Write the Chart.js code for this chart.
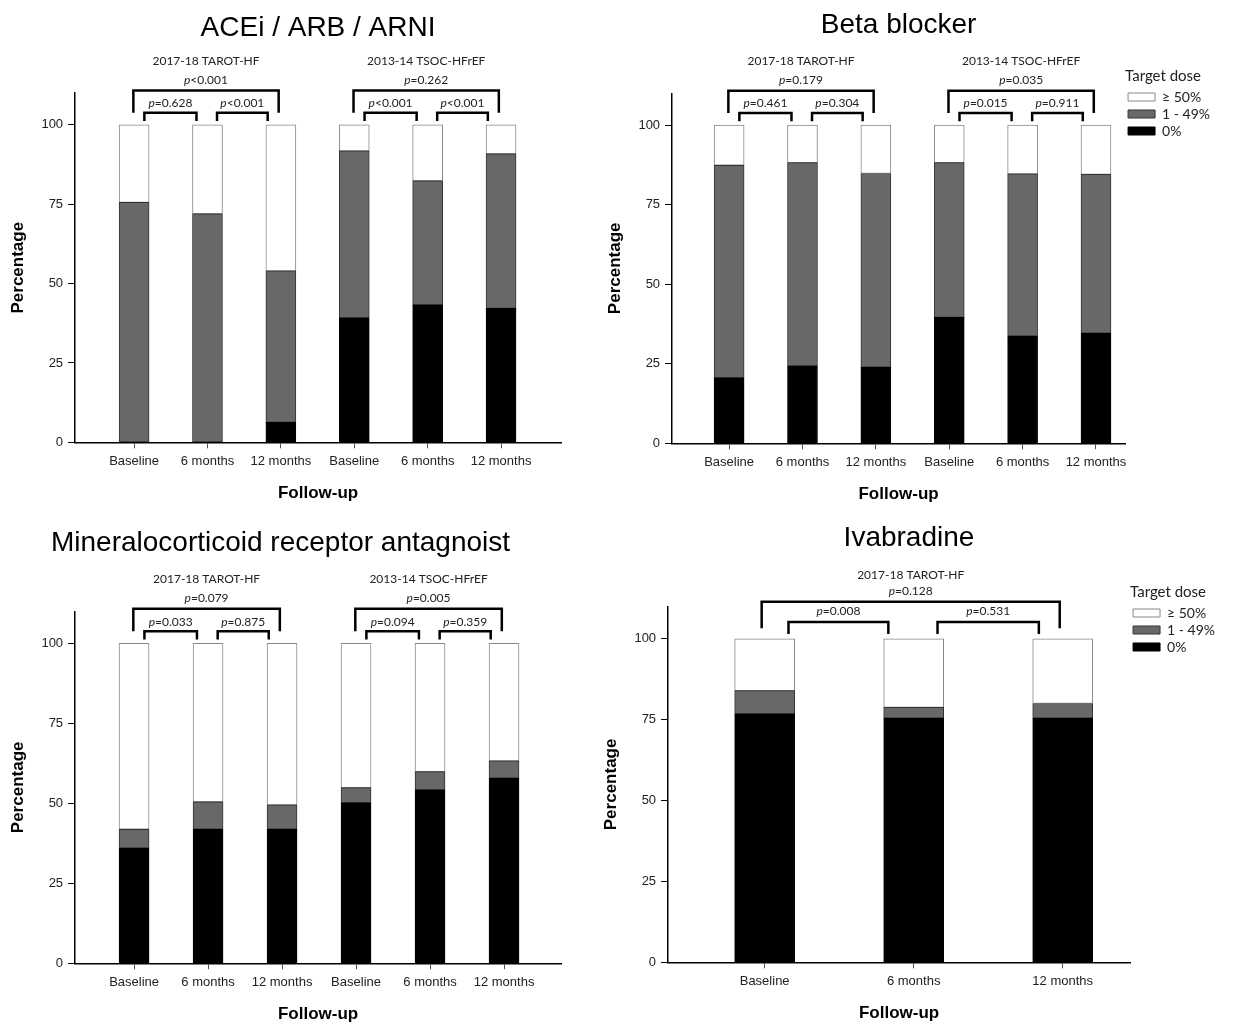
<!DOCTYPE html>
<html>
<head>
<meta charset="utf-8">
<title>Target dose over follow-up</title>
<script src="https://cdn.jsdelivr.net/npm/chart.js@4.4.0/dist/chart.umd.min.js"></script>
<style>
  html, body { margin: 0; padding: 0; background: #fff; overflow: hidden; }
  canvas { position: absolute; }
</style>
</head>
<body>
<canvas id="aceChart" width="600" height="515" style="left:0px;top:0px"></canvas>
<canvas id="betaChart" width="640" height="515" style="left:597px;top:0px"></canvas>
<canvas id="mraChart" width="600" height="520" style="left:0px;top:512px"></canvas>
<canvas id="ivaChart" width="644" height="520" style="left:593px;top:512px"></canvas>
<script>
// Catégories et libellés
const followUpLabels = ['Baseline', '6 months', '12 months', 'Baseline', '6 months', '12 months'];
const ivaLabels = ['Baseline', '6 months', '12 months'];
const doseLabels = ['0%', '1 - 49%', '\u2265 50%'];
const cohortNames = ['2017-18 TAROT-HF', '2013-14 TSOC-HFrEF'];
const yTicks = [0, 25, 50, 75, 100];

// ACEi / ARB / ARNI (%)
const aceZero = [0, 0, 6.3, 39.2, 43.3, 42.2];
const aceLow = [75.6, 72.0, 47.7, 52.6, 39.1, 48.7];
const aceTarget = [24.4, 28.0, 46.0, 8.2, 17.6, 9.1];
const aceOverallP = ['p<0.001', 'p=0.262'];
const acePairP = [['p=0.628', 'p<0.001'], ['p<0.001', 'p<0.001']];

// Beta blocker (%)
const betaZero = [20.6, 24.3, 23.9, 39.6, 33.7, 34.6];
const betaLow = [66.8, 63.9, 60.9, 48.6, 51.0, 49.9];
const betaTarget = [12.6, 11.8, 15.2, 11.8, 15.3, 15.5];
const betaOverallP = ['p=0.179', 'p=0.035'];
const betaPairP = [['p=0.461', 'p=0.304'], ['p=0.015', 'p=0.911']];

// Mineralocorticoid receptor antagonist (%)
const mraZero = [36.0, 41.9, 41.9, 50.2, 54.2, 57.9];
const mraLow = [5.9, 8.6, 7.6, 4.7, 5.7, 5.4];
const mraTarget = [58.1, 49.5, 50.5, 45.1, 40.1, 36.7];
const mraOverallP = ['p=0.079', 'p=0.005'];
const mraPairP = [['p=0.033', 'p=0.875'], ['p=0.094', 'p=0.359']];

// Ivabradine (%)
const ivaZero = [76.8, 75.5, 75.5];
const ivaLow = [7.2, 3.3, 4.5];
const ivaTarget = [16.0, 21.2, 20.0];
const ivaOverallP = ['p=0.128'];
const ivaPairP = [['p=0.008', 'p=0.531']];

Chart.defaults.font.family = '"Liberation Sans", Arial, sans-serif';
Chart.defaults.color = '#222';

const noteFont = '"Lato", "Open Sans", sans-serif';

// Géométrie des crochets (en unités des axes)
const sixBarBrackets = {
    outer: [-0.01, 1.97], inner: [[0.14, 0.85], [1.13, 1.82]],
    outerTop: 110.8, outerLeg: 103.8, innerTop: 103.8, innerLeg: 101.2,
    pairText: 106.8, overallText: 114.1, nameText: 120.1
};
const threeBarBrackets = {
    outer: [-0.02, 1.98], inner: [[0.16, 0.83], [1.16, 1.84]],
    outerTop: 111.5, outerLeg: 103.3, innerTop: 105.2, innerLeg: 101.5,
    pairText: 108.6, overallText: 114.8, nameText: 119.8
};

function drawBracket(ctx, x0, x1, top, leg) {
    ctx.beginPath();
    ctx.moveTo(x0, leg);
    ctx.lineTo(x0, top);
    ctx.lineTo(x1, top);
    ctx.lineTo(x1, leg);
    ctx.stroke();
}

// "p" en italique, le reste en romain
function drawPValue(ctx, text, cx, cy) {
    const head = text.charAt(0);
    const rest = text.slice(1);
    ctx.font = 'italic 12px ' + noteFont;
    const w1 = ctx.measureText(head).width;
    ctx.font = '12px ' + noteFont;
    const w2 = ctx.measureText(rest).width;
    const left = cx - (w1 + w2) / 2;
    ctx.textAlign = 'left';
    ctx.font = 'italic 12px ' + noteFont;
    ctx.fillText(head, left, cy);
    ctx.font = '12px ' + noteFont;
    ctx.fillText(rest, left + w1, cy);
}

const bracketPlugin = {
    id: 'brackets',
    afterDraw(chart, args, opts) {
        if (!opts.groups) return;
        const { ctx } = chart;
        const x = chart.scales.x;
        const y = chart.scales.y;
        const g = opts.geometry;
        ctx.save();
        ctx.strokeStyle = '#000';
        ctx.lineWidth = 2.5;
        ctx.fillStyle = '#222';
        ctx.textBaseline = 'middle';
        opts.groups.forEach(group => {
            const s = group.start;
            const ox0 = x.getPixelForValue(s + g.outer[0]);
            const ox1 = x.getPixelForValue(s + g.outer[1]);
            drawBracket(ctx, ox0, ox1, y.getPixelForValue(g.outerTop), y.getPixelForValue(g.outerLeg));
            g.inner.forEach((span, i) => {
                const ix0 = x.getPixelForValue(s + span[0]);
                const ix1 = x.getPixelForValue(s + span[1]);
                drawBracket(ctx, ix0, ix1, y.getPixelForValue(g.innerTop), y.getPixelForValue(g.innerLeg));
                drawPValue(ctx, group.pairs[i], (ix0 + ix1) / 2, y.getPixelForValue(g.pairText));
            });
            const mid = (ox0 + ox1) / 2;
            drawPValue(ctx, group.overall, mid, y.getPixelForValue(g.overallText));
            ctx.font = '12px ' + noteFont;
            ctx.textAlign = 'center';
            ctx.fillText(group.name, mid, y.getPixelForValue(g.nameText));
        });
        ctx.restore();
    }
};

function toPoints(values) {
    return values.map((v, i) => ({ x: i, y: v }));
}

function makeChart(id, cfg) {
    const labels = cfg.labels;
    return new Chart(document.getElementById(id), {
        type: 'bar',
        data: {
            datasets: [
                { label: doseLabels[0], data: toPoints(cfg.zero), backgroundColor: '#000', borderColor: '#000' },
                { label: doseLabels[1], data: toPoints(cfg.low), backgroundColor: '#686868', borderColor: '#333' },
                { label: doseLabels[2], data: toPoints(cfg.target), backgroundColor: '#fff', borderColor: '#888' }
            ]
        },
        options: {
            responsive: false,
            animation: false,
            barThickness: cfg.barWidth,
            borderWidth: 1,
            borderSkipped: false,
            layout: { padding: cfg.padding },
            scales: {
                x: {
                    type: 'linear',
                    stacked: true,
                    offset: false,
                    min: cfg.xMin,
                    max: cfg.xMax,
                    afterBuildTicks: scale => { scale.ticks = labels.map((_, i) => ({ value: i })); },
                    ticks: {
                        autoSkip: false,
                        maxRotation: 0,
                        padding: 5,
                        font: { size: 13 },
                        color: '#222',
                        callback: value => labels[Math.round(value)]
                    },
                    grid: { drawOnChartArea: false, offset: false, tickLength: 6, color: '#555' },
                    border: { color: '#000', width: 1.5 },
                    title: {
                        display: true,
                        text: 'Follow-up',
                        color: '#000',
                        font: { size: 17, weight: 'bold' },
                        padding: { top: 9, bottom: 4 }
                    }
                },
                y: {
                    stacked: true,
                    min: 0,
                    max: 110,
                    afterBuildTicks: scale => { scale.ticks = yTicks.map(v => ({ value: v })); },
                    ticks: { padding: 5, font: { size: 13 }, color: '#222' },
                    grid: { drawOnChartArea: false, tickLength: 7, color: '#000' },
                    border: { color: '#000', width: 1.5 },
                    title: {
                        display: true,
                        text: 'Percentage',
                        color: '#000',
                        font: { size: 17, weight: 'bold' },
                        padding: { top: 8, bottom: 8 }
                    }
                }
            },
            plugins: {
                title: {
                    display: true,
                    text: cfg.title,
                    color: '#000',
                    fullSize: cfg.titleFull,
                    font: { size: 28, weight: 'normal' },
                    padding: cfg.titlePadding
                },
                legend: {
                    display: cfg.legend,
                    position: 'right',
                    align: 'start',
                    reverse: true,
                    title: {
                        display: true,
                        text: 'Target dose',
                        color: '#222',
                        position: 'start',
                        font: { size: 15, family: noteFont },
                        padding: { top: cfg.legendTop, bottom: 0 }
                    },
                    labels: {
                        boxWidth: 27,
                        boxHeight: 8,
                        padding: 3,
                        color: '#222',
                        font: { size: 14, family: noteFont }
                    }
                },
                tooltip: { enabled: false },
                brackets: { groups: cfg.groups, geometry: cfg.geometry }
            }
        },
        plugins: [bracketPlugin]
    });
}

function cohortGroups(overall, pairs) {
    return overall.map((p, i) => ({ start: i * 3, name: cohortNames[i], overall: p, pairs: pairs[i] }));
}

document.addEventListener('DOMContentLoaded', () => {
    makeChart('aceChart', {
        title: 'ACEi / ARB / ARNI', titleFull: false, titlePadding: { top: 11, bottom: 48.5 },
        labels: followUpLabels, zero: aceZero, low: aceLow, target: aceTarget,
        xMin: -0.804, xMax: 5.817, barWidth: 30, legend: false, legendTop: 0,
        padding: { left: 0, right: 39, top: 0, bottom: 7.7 },
        groups: cohortGroups(aceOverallP, acePairP), geometry: sixBarBrackets
    });
    makeChart('betaChart', {
        title: 'Beta blocker', titleFull: false, titlePadding: { top: 8, bottom: 51.7 },
        labels: followUpLabels, zero: betaZero, low: betaLow, target: betaTarget,
        xMin: -0.777, xMax: 5.396, barWidth: 30, legend: true, legendTop: 69,
        padding: { left: 0, right: 17, top: 0, bottom: 6.7 },
        groups: cohortGroups(betaOverallP, betaPairP), geometry: sixBarBrackets
    });
    makeChart('mraChart', {
        title: 'Mineralocorticoid receptor antagnoist', titleFull: true, titlePadding: { top: 14, bottom: 51.8 },
        labels: followUpLabels, zero: mraZero, low: mraLow, target: mraTarget,
        xMin: -0.797, xMax: 5.77, barWidth: 30, legend: false, legendTop: 0,
        padding: { left: 0, right: 39, top: 0, bottom: 3.7 },
        groups: cohortGroups(mraOverallP, mraPairP), geometry: sixBarBrackets
    });
    makeChart('ivaChart', {
        title: 'Ivabradine', titleFull: true, titlePadding: { top: 9, bottom: 51.9 },
        labels: ivaLabels, zero: ivaZero, low: ivaLow, target: ivaTarget,
        xMin: -0.648, xMax: 2.452, barWidth: 60, legend: true, legendTop: 73,
        padding: { left: 0, right: 12, top: 0, bottom: 4.7 },
        groups: cohortGroups(ivaOverallP, ivaPairP), geometry: threeBarBrackets
    });
});
</script>
</body>
</html>
